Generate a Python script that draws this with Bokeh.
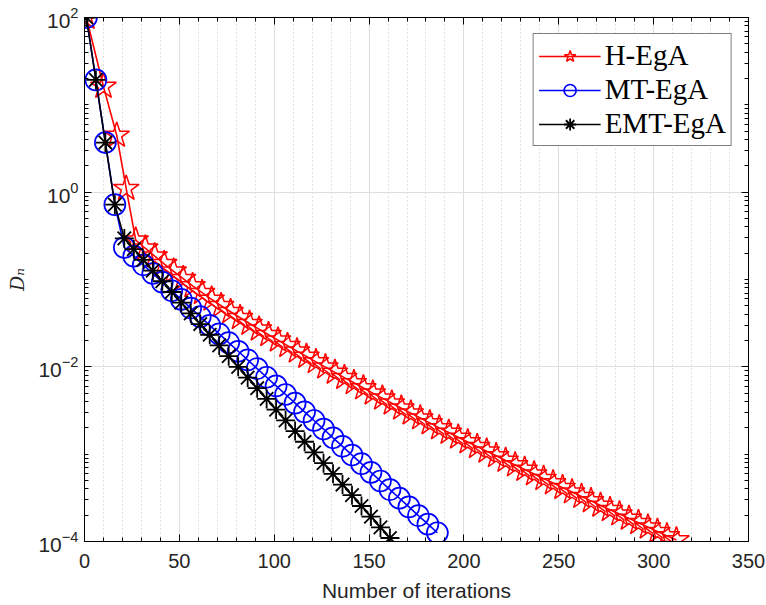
from bokeh.plotting import figure
from bokeh.models import (FixedTicker, LinearAxis, LogAxis, Legend, LegendItem,
                          CustomJSTickFormatter, ColumnDataSource)
from bokeh.embed import file_html
from bokeh.resources import INLINE

# ---------------- data ----------------
h_iter = [1, 10, 17, 22, 27, 32, 37, 42, 47, 52, 57, 62, 67, 72, 77, 82, 87, 92, 97, 102,
          107, 112, 117, 122, 127, 132, 137, 142, 147, 152, 157, 162, 167, 172, 177, 182,
          187, 192, 197, 202, 207, 212, 217, 222, 227, 232, 237, 242, 247, 252, 257, 262,
          267, 272, 277, 282, 287, 292, 297, 302, 307, 312]
h_val = [100, 16.2, 4.47, 1.10, 0.282, 0.228, 0.1854, 0.1514, 0.1242, 0.1023, 0.0847,
         0.0706, 0.0593, 0.0501, 0.0427, 0.0365, 0.0313, 0.0270, 0.0233, 0.0202, 0.0175,
         0.01514, 0.01315, 0.01141, 0.00993, 0.00863, 0.00752, 0.00656, 0.00573, 0.00500,
         0.00438, 0.00384, 0.00336, 0.00295, 0.00259, 0.00228, 0.00200, 0.00177, 0.00156,
         0.00138, 0.00122, 0.00108, 0.000957, 0.000847, 0.000752, 0.000667, 0.000592,
         0.000525, 0.000467, 0.000414, 0.000368, 0.000327, 0.000292, 0.000259, 0.000231,
         0.000206, 0.000184, 0.000164, 0.000146, 0.000130, 0.000116, 0.000104]

mt_iter = [1, 6, 11, 16, 21, 26, 31, 36, 41, 46, 51, 56, 61, 66, 71, 76, 81, 86, 91, 96,
           101, 106, 111, 116, 121, 126, 131, 136, 141, 146, 151, 156, 161, 166, 171, 176,
           181, 186]
mt_val = [100, 19.3, 3.7, 0.72, 0.2323, 0.1849, 0.1472, 0.1172, 0.0933, 0.0743, 0.0592,
          0.0471, 0.0375, 0.0299, 0.0238, 0.0189, 0.01507, 0.0120, 0.00955, 0.00760,
          0.00605, 0.00482, 0.00384, 0.00305, 0.00243, 0.00194, 0.00154, 0.00123,
          0.000977, 0.000778, 0.000619, 0.000493, 0.000393, 0.000313, 0.000249, 0.000198,
          0.000158, 0.000126]

emt_iter = [1, 6, 11, 16, 21, 26, 31, 36, 41, 46, 51, 56, 61, 66, 71, 76, 81, 86, 91, 96,
            101, 106, 111, 116, 121, 126, 131, 136, 141, 146, 151, 156, 161]
emt_val = [100, 19.3, 3.7, 0.72, 0.2951, 0.2223, 0.1679, 0.1265, 0.0955, 0.0719, 0.0543,
           0.0409, 0.0309, 0.0233, 0.0176, 0.01324, 0.0100, 0.00753, 0.00569, 0.00429,
           0.00324, 0.00244, 0.00184, 0.001387, 0.001047, 0.000789, 0.000596, 0.000449,
           0.000339, 0.000255, 0.000193, 0.000145, 0.0001096]

x_major = [0, 50, 100, 150, 200, 250, 300, 350]
x_minor = [10, 20, 30, 40, 60, 70, 80, 90, 110, 120, 130, 140, 160, 170, 180, 190,
           210, 220, 230, 240, 260, 270, 280, 290, 310, 320, 330, 340]
y_major = [1e-4, 1e-2, 1e0, 1e2]
y_minor = [m * 10.0 ** e for e in range(-4, 2) for m in range(2, 10)] + [1e-3, 1e-1, 1e1]

series_names = ["H-EgA", "MT-EgA", "EMT-EgA"]

# ---------------- figure ----------------
p = figure(width=766, height=605, y_axis_type="log", x_range=(0, 350), y_range=(1e-4, 1e2),
           output_backend="svg", toolbar_location=None,
           min_border_left=84, min_border_right=18, min_border_top=17, min_border_bottom=64)
p.background_fill_color = "white"
p.border_fill_color = "white"
p.outline_line_color = "black"
p.outline_line_width = 1

xt = FixedTicker(ticks=x_major, minor_ticks=x_minor)
yt = FixedTicker(ticks=y_major, minor_ticks=y_minor)
p.xaxis.ticker = xt
p.yaxis.ticker = yt

for ax in (p.xaxis[0], p.yaxis[0]):
    ax.axis_line_color = "black"
    ax.major_tick_line_color = "black"
    ax.minor_tick_line_color = "black"
    ax.major_tick_in = 7
    ax.major_tick_out = 0
    ax.minor_tick_in = 4
    ax.minor_tick_out = 0
    ax.major_label_text_font = "Liberation Sans"
    ax.major_label_text_color = "#262626"
    ax.axis_label_text_color = "#262626"

p.xaxis.major_label_text_font_size = "20px"
p.yaxis.major_label_text_font_size = "21px"

p.xaxis.axis_label = "Number of iterations"
p.xaxis.axis_label_text_font = "Liberation Sans"
p.xaxis.axis_label_text_font_style = "normal"
p.xaxis.axis_label_text_font_size = "21px"
p.xaxis.major_label_standoff = 12
p.xaxis.axis_label_standoff = 8

p.yaxis.axis_label = "Dₙ"
p.yaxis.axis_label_text_font = "DejaVu Serif"
p.yaxis.axis_label_text_font_style = "italic"
p.yaxis.axis_label_text_font_size = "19px"
p.yaxis.major_label_standoff = 6
p.yaxis.axis_label_standoff = 7

blank = CustomJSTickFormatter(code="return ''")
top = LinearAxis(ticker=xt, formatter=blank)
right = LogAxis(ticker=yt, formatter=blank)
for ax in (top, right):
    ax.axis_line_color = "black"
    ax.major_tick_line_color = "black"
    ax.minor_tick_line_color = "black"
    ax.major_tick_in = 7
    ax.major_tick_out = 0
    ax.minor_tick_in = 4
    ax.minor_tick_out = 0
    ax.major_label_standoff = 0
p.add_layout(top, "above")
p.add_layout(right, "right")

p.xgrid.ticker = xt
p.ygrid.ticker = yt
p.xgrid.grid_line_color = "#dedede"
p.ygrid.grid_line_color = "#dedede"
p.xgrid.minor_grid_line_color = "#c4c4c4"
p.xgrid.minor_grid_line_dash = "1 3"

# ---------------- series ----------------
src_h = ColumnDataSource(dict(x=h_iter, y=h_val))
src_mt = ColumnDataSource(dict(x=mt_iter, y=mt_val))
src_emt = ColumnDataSource(dict(x=emt_iter, y=emt_val))

l1 = p.line("x", "y", source=src_h, line_color="#ff0000", line_width=1.6)
m1 = p.scatter("x", "y", source=src_h, marker="star", size=27, line_color="#ff0000",
               fill_color=None, line_width=1.5)
l2 = p.line("x", "y", source=src_mt, line_color="#0000ff", line_width=1.6)
m2 = p.scatter("x", "y", source=src_mt, marker="circle", size=21, line_color="#0000ff",
               fill_color=None, line_width=1.7)
l3 = p.line("x", "y", source=src_emt, line_color="black", line_width=1.6)
m3 = p.scatter("x", "y", source=src_emt, marker="asterisk", size=19, line_color="black",
               line_width=1.8)

legend = Legend(items=[LegendItem(label=series_names[0], renderers=[l1, m1]),
                       LegendItem(label=series_names[1], renderers=[l2, m2]),
                       LegendItem(label=series_names[2], renderers=[l3, m3])],
                location="top_right")
legend.margin = 16
legend.padding = 5
legend.spacing = 1
legend.glyph_width = 62
legend.glyph_height = 30
legend.label_height = 30
legend.label_standoff = 4
legend.label_text_font = "Liberation Serif"
legend.label_text_font_size = "29px"
legend.label_text_color = "black"
legend.border_line_color = "black"
legend.border_line_width = 1
legend.background_fill_color = "white"
legend.background_fill_alpha = 1
p.add_layout(legend, "center")

open("out.html", "w").write(file_html(p, INLINE))
